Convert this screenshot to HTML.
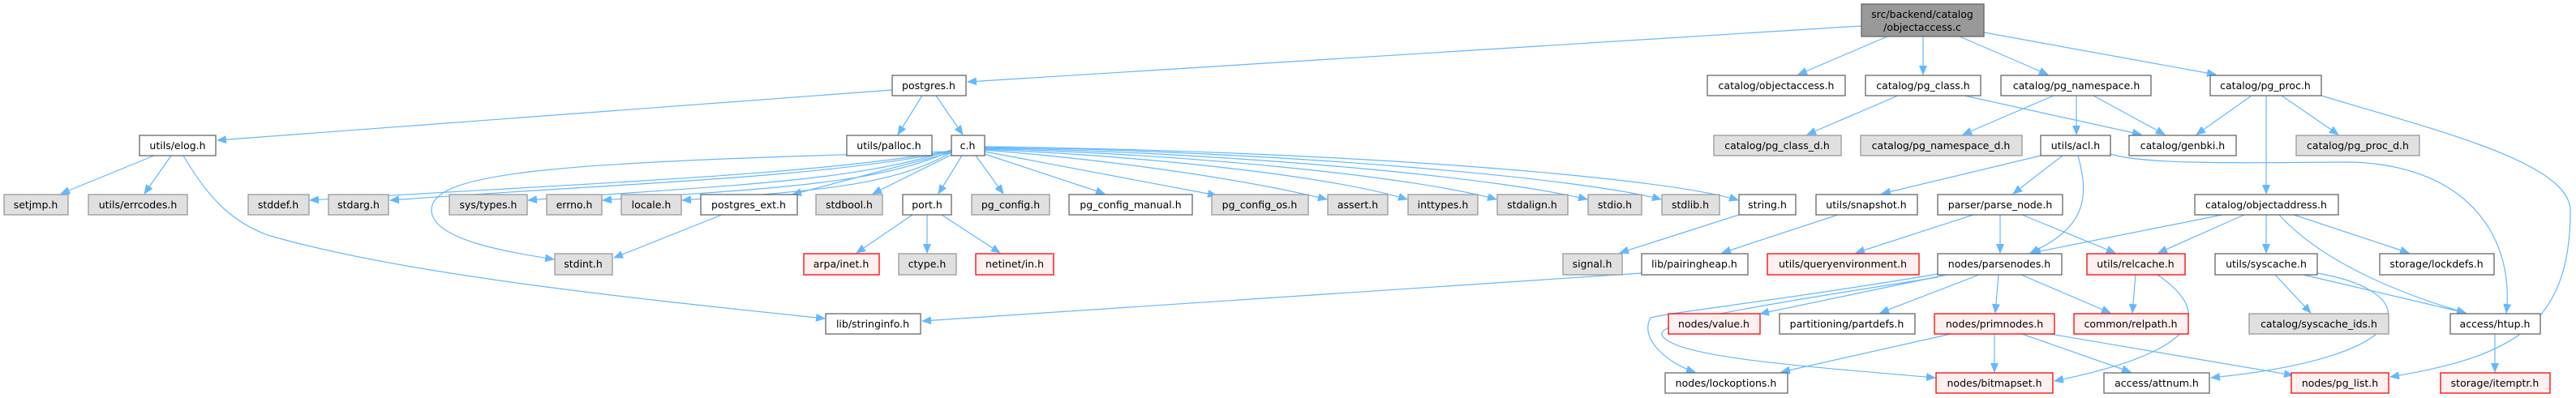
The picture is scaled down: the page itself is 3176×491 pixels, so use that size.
<!DOCTYPE html>
<html><head><meta charset="utf-8"><style>
html,body{margin:0;padding:0;background:#fff;}
svg{display:block;}
text{font-family:"DejaVu Sans","Liberation Sans",sans-serif;font-size:12.5px;fill:#000;text-anchor:middle;}
.w{fill:#fff;stroke:#666;stroke-width:1.3}
.g{fill:#e0e0e0;stroke:#999;stroke-width:1.3}
.r{fill:#fff0f0;stroke:#ff0000;stroke-width:1.3}
.t{fill:#999;stroke:#666;stroke-width:1.3}
path{fill:none;stroke:#63b8ff;stroke-width:1.2;marker-end:url(#a)}
</style></head><body>
<svg width="3176" height="491" viewBox="0 0 3176 491" xmlns="http://www.w3.org/2000/svg">
<defs><marker id="a" markerUnits="userSpaceOnUse" markerWidth="12" markerHeight="10" refX="11" refY="5" orient="auto"><polygon points="0,0 12,5 0,10" fill="#63b8ff"/></marker></defs>
<g>
<path d="M2295,32 L1193,101"/>
<path d="M2327,45 L2217,92"/>
<path d="M2371,45 L2371,92"/>
<path d="M2416,45 L2525,92"/>
<path d="M2446,40 L2732,92"/>
<path d="M1100,111 L268,173"/>
<path d="M1137,118 L1107,166"/>
<path d="M1154,118 L1187,166"/>
<path d="M190,192 L75,239"/>
<path d="M211,192 L178,239"/>
<path d="M226,192 C260,250 290,275 330,290 C500,340 800,370 1017,393"/>
<path d="M2340,118 L2228,166"/>
<path d="M2422,118 L2640,166"/>
<path d="M2532,118 L2420,166"/>
<path d="M2560,118 L2560,166"/>
<path d="M2581,118 L2669,166"/>
<path d="M2776,118 L2708,166"/>
<path d="M2813,118 L2883,166"/>
<path d="M2794,118 L2794,239"/>
<path d="M2862,118 C3000,160 3169,200 3169,260 C3169,400 3100,440 2947,465"/>
<path d="M2516,192 L2320,239"/>
<path d="M2543,192 L2482,239"/>
<path d="M2562,192 C2575,240 2575,280 2503,312"/>
<path d="M2602,190 C2650,205 2800,200 2900,200 C3050,205 3100,300 3090,386"/>
<path d="M2433,265 L2288,312"/>
<path d="M2466,265 L2466,312"/>
<path d="M2493,265 L2608,312"/>
<path d="M2740,265 L2505,312"/>
<path d="M2767,265 L2661,312"/>
<path d="M2794,265 L2794,312"/>
<path d="M2828,265 L2970,312"/>
<path d="M2810,265 C2860,320 2950,360 3040,386"/>
<path d="M2266,265 L2123,312"/>
<path d="M2144,265 L1997,312"/>
<path d="M2024,337 L1137,396"/>
<path d="M2400,339 L2170,387"/>
<path d="M2440,339 L2318,386"/>
<path d="M2464,339 L2460,386"/>
<path d="M2492,339 L2602,386"/>
<path d="M2389,338 C2200,370 2060,385 2035,392 C2020,420 2060,450 2090,459"/>
<path d="M2389,342 C2150,380 2035,398 2050,415 C2070,440 2200,450 2386,466"/>
<path d="M2405,412 L2196,459"/>
<path d="M2459,412 L2459,459"/>
<path d="M2493,412 L2627,459"/>
<path d="M2528,412 L2827,463"/>
<path d="M2633,339 L2629,386"/>
<path d="M2660,339 C2720,380 2730,430 2533,470"/>
<path d="M2805,339 L2849,386"/>
<path d="M2840,339 L3040,386"/>
<path d="M2857,337 C2990,360 2990,440 2726,466"/>
<path d="M3076,412 L3076,459"/>
<path d="M1125,265 L1056,312"/>
<path d="M1143,265 L1143,312"/>
<path d="M1161,265 L1233,312"/>
<path d="M890,265 L757,318"/>
<path d="M1186,192 L1157,239"/>
<path d="M1203,192 L1237,239"/>
<path d="M1175,190 L1076,239"/>
<path d="M1173,188 L977,240"/>
<path d="M1214,190 L1362,239"/>
<path d="M1214,187 L1500,241"/>
<path d="M1214,185 C1400,200 1550,225 1636,246"/>
<path d="M1214,184 C1450,195 1650,220 1735,246"/>
<path d="M1214,183 C1500,192 1750,220 1845,246"/>
<path d="M1214,182 C1550,190 1850,220 1957,246"/>
<path d="M1214,181 C1600,188 1950,220 2048,246"/>
<path d="M1214,181 C1650,186 2050,218 2143,247"/>
<path d="M1173,186 C1000,215 800,222 382,247"/>
<path d="M1173,187 C1000,220 800,224 481,247"/>
<path d="M1173,185 C1050,225 900,228 651,247"/>
<path d="M1173,186 C1080,228 950,232 743,247"/>
<path d="M1173,188 C1100,230 1000,236 841,247"/>
<path d="M1173,187 C700,200 530,210 532,260 C534,295 620,310 683,320"/>
</g>
<rect class="t" x="2295" y="5" width="151" height="40"/><text x="2370" y="22">src/backend/catalog</text><text x="2370" y="38">/objectaccess.c</text>
<rect class="w" x="1100" y="93" width="91" height="25"/><text x="1145" y="110">postgres.h</text>
<rect class="w" x="2105" y="93" width="170" height="25"/><text x="2190" y="110">catalog/objectaccess.h</text>
<rect class="w" x="2300" y="93" width="142" height="25"/><text x="2371" y="110">catalog/pg_class.h</text>
<rect class="w" x="2467" y="93" width="185" height="25"/><text x="2560" y="110">catalog/pg_namespace.h</text>
<rect class="w" x="2725" y="93" width="137" height="25"/><text x="2793" y="110">catalog/pg_proc.h</text>
<rect class="w" x="172" y="167" width="94" height="25"/><text x="219" y="184">utils/elog.h</text>
<rect class="w" x="1044" y="167" width="105" height="25"/><text x="1096" y="184">utils/palloc.h</text>
<rect class="w" x="1173" y="167" width="41" height="25"/><text x="1193" y="184">c.h</text>
<rect class="g" x="2113" y="167" width="157" height="25"/><text x="2191" y="184">catalog/pg_class_d.h</text>
<rect class="g" x="2294" y="167" width="199" height="25"/><text x="2393" y="184">catalog/pg_namespace_d.h</text>
<rect class="w" x="2516" y="167" width="86" height="25"/><text x="2559" y="184">utils/acl.h</text>
<rect class="w" x="2625" y="167" width="132" height="25"/><text x="2691" y="184">catalog/genbki.h</text>
<rect class="g" x="2831" y="167" width="152" height="25"/><text x="2907" y="184">catalog/pg_proc_d.h</text>
<rect class="g" x="5" y="240" width="79" height="25"/><text x="44" y="257">setjmp.h</text>
<rect class="g" x="109" y="240" width="122" height="25"/><text x="170" y="257">utils/errcodes.h</text>
<rect class="g" x="306" y="240" width="75" height="25"/><text x="343" y="257">stddef.h</text>
<rect class="g" x="405" y="240" width="74" height="25"/><text x="442" y="257">stdarg.h</text>
<rect class="g" x="554" y="240" width="96" height="25"/><text x="602" y="257">sys/types.h</text>
<rect class="g" x="674" y="240" width="68" height="25"/><text x="708" y="257">errno.h</text>
<rect class="g" x="766" y="240" width="74" height="25"/><text x="803" y="257">locale.h</text>
<rect class="w" x="864" y="240" width="119" height="25"/><text x="923" y="257">postgres_ext.h</text>
<rect class="g" x="1006" y="240" width="82" height="25"/><text x="1047" y="257">stdbool.h</text>
<rect class="w" x="1113" y="240" width="60" height="25"/><text x="1143" y="257">port.h</text>
<rect class="g" x="1198" y="240" width="96" height="25"/><text x="1246" y="257">pg_config.h</text>
<rect class="w" x="1318" y="240" width="152" height="25"/><text x="1394" y="257">pg_config_manual.h</text>
<rect class="g" x="1494" y="240" width="119" height="25"/><text x="1553" y="257">pg_config_os.h</text>
<rect class="g" x="1637" y="240" width="74" height="25"/><text x="1674" y="257">assert.h</text>
<rect class="g" x="1736" y="240" width="86" height="25"/><text x="1779" y="257">inttypes.h</text>
<rect class="g" x="1846" y="240" width="87" height="25"/><text x="1889" y="257">stdalign.h</text>
<rect class="g" x="1958" y="240" width="66" height="25"/><text x="1991" y="257">stdio.h</text>
<rect class="g" x="2049" y="240" width="71" height="25"/><text x="2084" y="257">stdlib.h</text>
<rect class="w" x="2144" y="240" width="70" height="25"/><text x="2179" y="257">string.h</text>
<rect class="w" x="2239" y="240" width="125" height="25"/><text x="2301" y="257">utils/snapshot.h</text>
<rect class="w" x="2389" y="240" width="154" height="25"/><text x="2466" y="257">parser/parse_node.h</text>
<rect class="w" x="2706" y="240" width="177" height="25"/><text x="2794" y="257">catalog/objectaddress.h</text>
<rect class="g" x="684" y="313" width="71" height="26"/><text x="719" y="330">stdint.h</text>
<rect class="r" x="991" y="313" width="93" height="26"/><text x="1037" y="330">arpa/inet.h</text>
<rect class="g" x="1108" y="313" width="71" height="26"/><text x="1143" y="330">ctype.h</text>
<rect class="r" x="1203" y="313" width="96" height="26"/><text x="1251" y="330">netinet/in.h</text>
<rect class="g" x="1927" y="313" width="73" height="26"/><text x="1963" y="330">signal.h</text>
<rect class="w" x="2024" y="313" width="131" height="26"/><text x="2089" y="330">lib/pairingheap.h</text>
<rect class="r" x="2179" y="313" width="187" height="26"/><text x="2272" y="330">utils/queryenvironment.h</text>
<rect class="w" x="2389" y="313" width="153" height="26"/><text x="2465" y="330">nodes/parsenodes.h</text>
<rect class="r" x="2573" y="313" width="121" height="26"/><text x="2633" y="330">utils/relcache.h</text>
<rect class="w" x="2731" y="313" width="126" height="26"/><text x="2794" y="330">utils/syscache.h</text>
<rect class="w" x="2934" y="313" width="141" height="26"/><text x="3004" y="330">storage/lockdefs.h</text>
<rect class="w" x="1018" y="387" width="117" height="25"/><text x="1076" y="404">lib/stringinfo.h</text>
<rect class="r" x="2057" y="387" width="113" height="25"/><text x="2113" y="404">nodes/value.h</text>
<rect class="w" x="2194" y="387" width="167" height="25"/><text x="2277" y="404">partitioning/partdefs.h</text>
<rect class="r" x="2385" y="387" width="148" height="25"/><text x="2459" y="404">nodes/primnodes.h</text>
<rect class="r" x="2557" y="387" width="141" height="25"/><text x="2627" y="404">common/relpath.h</text>
<rect class="g" x="2773" y="387" width="172" height="25"/><text x="2859" y="404">catalog/syscache_ids.h</text>
<rect class="w" x="3021" y="387" width="111" height="25"/><text x="3076" y="404">access/htup.h</text>
<rect class="w" x="2053" y="460" width="151" height="25"/><text x="2128" y="477">nodes/lockoptions.h</text>
<rect class="r" x="2387" y="460" width="144" height="25"/><text x="2459" y="477">nodes/bitmapset.h</text>
<rect class="w" x="2594" y="460" width="130" height="25"/><text x="2659" y="477">access/attnum.h</text>
<rect class="r" x="2825" y="460" width="120" height="25"/><text x="2885" y="477">nodes/pg_list.h</text>
<rect class="r" x="3009" y="460" width="135" height="25"/><text x="3076" y="477">storage/itemptr.h</text>
</svg>
</body></html>
